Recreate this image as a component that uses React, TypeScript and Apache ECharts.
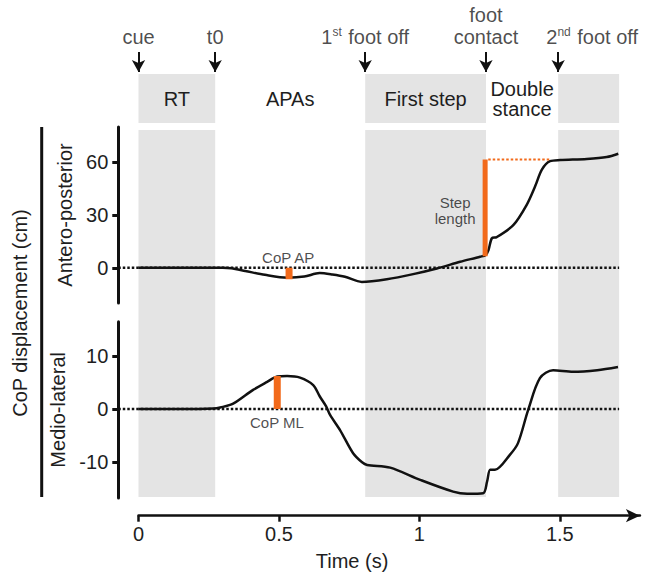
import React, { useEffect, useRef } from "react";
import * as echarts from "echarts";

// ---- data ----
const apTime = [0, 0.15, 0.3, 0.33, 0.38, 0.45, 0.53, 0.59, 0.645, 0.69, 0.735, 0.795, 0.884, 0.978, 1.062, 1.145, 1.216, 1.236, 1.246, 1.258, 1.275, 1.335, 1.382, 1.412, 1.436, 1.465, 1.501, 1.596, 1.667, 1.708];
const apValues = [0, 0, 0, -0.3, -1.8, -4.0, -5.6, -5.0, -3.0, -3.8, -5.1, -8.0, -6.5, -3.6, -0.4, 3.4, 6.3, 7.3, 10.1, 16.8, 17.4, 24.4, 35.8, 46.3, 55.8, 60.6, 61.2, 61.8, 62.9, 64.8];
const mlTime = [0, 0.15, 0.266, 0.291, 0.337, 0.408, 0.458, 0.494, 0.529, 0.575, 0.622, 0.645, 0.668, 0.682, 0.718, 0.764, 0.796, 0.814, 0.896, 1.003, 1.12, 1.17, 1.227, 1.241, 1.252, 1.269, 1.322, 1.351, 1.387, 1.429, 1.476, 1.547, 1.633, 1.707];
const mlValues = [0, 0, 0.1, 0.3, 1.0, 3.6, 5.1, 6.1, 6.2, 5.9, 4.5, 2.4, 0.5, -1.1, -4.0, -8.3, -10.0, -10.5, -11.0, -13.3, -15.5, -15.9, -15.8, -13.6, -11.4, -11.4, -8.6, -6.4, -0.2, 5.8, 7.3, 7.0, 7.3, 7.9];

const phaseNames = ["RT", "APAs", "First step", "Double\nstance", ""];
const phaseStart = [0, 0.273, 0.807, 1.237, 1.494];
const phaseEnd = [0.273, 0.807, 1.237, 1.494, 1.711];
const phaseShaded = [true, false, true, false, true];

const eventNames = ["cue", "t0", "1{sup|st} foot off", "foot\ncontact", "2{sup|nd} foot off"];
const eventTimes = [0, 0.273, 0.807, 1.237, 1.494];

const apTicks = [0, 30, 60];
const mlTicks = [-10, 0, 10];
const timeTicks = [0, 0.5, 1, 1.5];

const copApTime = [0.536, 0.536];
const copApValues = [0, -6.5];
const copMlTime = [0.494, 0.494];
const copMlValues = [0, 6.2];
const stepTime = [1.234, 1.234];
const stepValues = [6.5, 61.5];
const stepRefTime = [1.245, 1.465];
const stepRefValues = [61.5, 61.5];
const zeroLineTime = [-0.072, 1.711];
const zeroLineValues = [0, 0];

const apNotes = ["CoP AP", "Step\nlength"];
const apNoteTime = [0.533, 1.127];
const apNoteValues = [6.1, 32.5];
const mlNotes = ["CoP ML"];
const mlNoteTime = [0.493];
const mlNoteValues = [-2.6];

// ---- layout ----
const FONT = "'Liberation Sans', Arial, Helvetica, sans-serif";
const TXT = "#1e1e1e";
const INK = "#111";
const ORANGE = "#F26A1B";
const GRAY = "#e4e4e4";
const PXPS = 280.9;
const X0 = 138.5;
const T_MIN = -0.072;
const T_MAX = 1.785;
const TIME_MAX = 1.785;
const pLeft = X0 + T_MIN * PXPS;
const pWidth = (T_MAX - T_MIN) * PXPS;

const zip = (a: number[], b: number[]) => a.map((v, i) => [v, b[i]]);

export default function App() {
  const ref = useRef<HTMLDivElement>(null);
  useEffect(() => {
    if (!ref.current) return;
    const chart = echarts.init(ref.current, undefined, { renderer: "svg" });
    const hiddenX = (gridIndex: number) => ({
      type: "value", gridIndex, min: T_MIN, max: T_MAX, show: false,
    });
    const hiddenY = (gridIndex: number) => ({
      type: "value", gridIndex, min: 0, max: 1, show: false,
    });
    const yAxisStyle = (gridIndex: number, min: number, max: number, ticks: number[], name: string) => ({
      type: "value", gridIndex, min, max, name,
      nameLocation: "middle", nameGap: 38, nameRotate: 90,
      nameTextStyle: { fontSize: 20, color: TXT, fontFamily: FONT },
      axisLine: { show: true, onZero: false, lineStyle: { color: INK, width: 3 } },
      axisTick: { show: true, length: 6, lineStyle: { color: INK, width: 3 }, customValues: ticks },
      axisLabel: { show: true, fontSize: 20, color: TXT, fontFamily: FONT, margin: 10, customValues: ticks },
      splitLine: { show: false },
    });
    const option: any = {
      animation: false,
      grid: [
        { left: pLeft, width: pWidth, top: 74, height: 49 },
        { left: pLeft, width: pWidth, top: 130, height: 367 },
        { left: pLeft, width: pWidth, top: 127, height: 176 },
        { left: pLeft, width: pWidth, top: 321.7, height: 176.3 },
        { left: X0, width: TIME_MAX * PXPS, top: 480, height: 35.7 },
        { left: pLeft, width: pWidth, top: 52, height: 20 },
      ],
      xAxis: [
        hiddenX(0), hiddenX(1), hiddenX(2), hiddenX(3),
        {
          type: "value", gridIndex: 4, min: 0, max: TIME_MAX,
          axisLine: { show: true, onZero: false, symbol: ["none", "arrow"], symbolSize: [10, 14], lineStyle: { color: INK, width: 2.5 } },
          axisTick: { show: true, length: 6, lineStyle: { color: INK, width: 2.5 }, customValues: timeTicks },
          axisLabel: { show: true, fontSize: 20, color: TXT, fontFamily: FONT, margin: 8, customValues: timeTicks },
          splitLine: { show: false },
        },
        hiddenX(5),
      ],
      yAxis: [
        hiddenY(0), hiddenY(1),
        yAxisStyle(2, -20, 80, apTicks, "Antero-posterior"),
        yAxisStyle(3, -16.7, 16.4, mlTicks, "Medio-lateral"),
        hiddenY(4), hiddenY(5),
      ],
      graphic: [
        { type: "line", shape: { x1: 41.7, y1: 127, x2: 41.7, y2: 497 }, style: { stroke: INK, lineWidth: 3 } },
        {
          type: "text", x: 20, y: 313, rotation: Math.PI / 2,
          style: { text: "CoP displacement (cm)", fontSize: 20, fill: TXT, fontFamily: FONT, align: "center", verticalAlign: "middle" },
        },
        {
          type: "text", x: 352, y: 561,
          style: { text: "Time (s)", fontSize: 20, fill: TXT, fontFamily: FONT, align: "center", verticalAlign: "middle" },
        },
      ],
      series: [
        {
          type: "line", xAxisIndex: 0, yAxisIndex: 0, data: [], silent: true,
          markArea: {
            silent: true,
            data: phaseNames.map((n, i) => [
              {
                name: n, xAxis: phaseStart[i], yAxis: 0,
                itemStyle: { color: phaseShaded[i] ? GRAY : "rgba(0,0,0,0)" },
              },
              { xAxis: phaseEnd[i], yAxis: 1 },
            ]),
            label: { show: true, position: "inside", fontSize: 20, color: TXT, fontFamily: FONT, lineHeight: 20 },
          },
        },
        {
          type: "line", xAxisIndex: 1, yAxisIndex: 1, data: [], silent: true,
          markArea: {
            silent: true,
            label: { show: false },
            data: phaseNames
              .map((n, i) => ({ i }))
              .filter(({ i }) => phaseShaded[i])
              .map(({ i }) => [
                { xAxis: phaseStart[i], yAxis: 0, itemStyle: { color: GRAY } },
                { xAxis: phaseEnd[i], yAxis: 1 },
              ]),
          },
        },
        {
          type: "line", xAxisIndex: 2, yAxisIndex: 2, data: zip(zeroLineTime, zeroLineValues),
          symbol: "none", lineStyle: { color: INK, width: 2.5, type: [2.5, 2] }, z: 3,
        },
        {
          type: "line", xAxisIndex: 2, yAxisIndex: 2, data: zip(apTime, apValues),
          symbol: "none", smooth: 0.3, lineStyle: { color: INK, width: 2.5 }, z: 4,
        },
        {
          type: "line", xAxisIndex: 2, yAxisIndex: 2, data: zip(stepRefTime, stepRefValues),
          symbol: "none", lineStyle: { color: ORANGE, width: 2, type: [2.5, 2] }, z: 5,
        },
        {
          type: "line", xAxisIndex: 2, yAxisIndex: 2, data: zip(copApTime, copApValues),
          symbol: "none", lineStyle: { color: ORANGE, width: 7, cap: "butt" }, z: 5,
        },
        {
          type: "line", xAxisIndex: 2, yAxisIndex: 2, data: zip(stepTime, stepValues),
          symbol: "none", lineStyle: { color: ORANGE, width: 5, cap: "butt" }, z: 5,
        },
        {
          type: "scatter", xAxisIndex: 2, yAxisIndex: 2, symbolSize: 0, z: 6,
          data: apNotes.map((n, i) => ({ name: n, value: [apNoteTime[i], apNoteValues[i]] })),
          label: { show: true, position: "inside", formatter: "{b}", fontSize: 15, color: TXT, fontFamily: FONT, lineHeight: 16 },
        },
        {
          type: "line", xAxisIndex: 3, yAxisIndex: 3, data: zip(zeroLineTime, zeroLineValues),
          symbol: "none", lineStyle: { color: INK, width: 2.5, type: [2.5, 2] }, z: 3,
        },
        {
          type: "line", xAxisIndex: 3, yAxisIndex: 3, data: zip(mlTime, mlValues),
          symbol: "none", smooth: 0.3, lineStyle: { color: INK, width: 2.5 }, z: 4,
        },
        {
          type: "line", xAxisIndex: 3, yAxisIndex: 3, data: zip(copMlTime, copMlValues),
          symbol: "none", lineStyle: { color: ORANGE, width: 7, cap: "butt" }, z: 5,
        },
        {
          type: "scatter", xAxisIndex: 3, yAxisIndex: 3, symbolSize: 0, z: 6,
          data: mlNotes.map((n, i) => ({ name: n, value: [mlNoteTime[i], mlNoteValues[i]] })),
          label: { show: true, position: "inside", formatter: "{b}", fontSize: 15, color: TXT, fontFamily: FONT },
        },
        {
          type: "scatter", xAxisIndex: 5, yAxisIndex: 5, symbolSize: 0, silent: true,
          data: eventNames.map((n, i) => ({
            name: n, value: [eventTimes[i], 1],
            label: i === 4 ? { offset: [34, 0] } : undefined,
          })),
          label: {
            show: true, position: "top", distance: 4, formatter: "{b}",
            fontSize: 20, color: TXT, fontFamily: FONT, lineHeight: 22,
            rich: { sup: { fontSize: 12, color: TXT, fontFamily: FONT, verticalAlign: "top", padding: [0, 1, 8, 0] } },
          },
          markLine: {
            silent: true, symbol: ["none", "arrow"], symbolSize: [10, 12],
            label: { show: false },
            lineStyle: { color: INK, width: 2, type: "solid" },
            data: eventTimes.map((t) => [{ coord: [t, 1] }, { coord: [t, 0] }]),
          },
        },
      ],
    };
    chart.setOption(option);
    return () => chart.dispose();
  }, []);
  return (
    <div
      ref={ref}
      style={{ position: "fixed", left: 0, top: 0, width: 645, height: 573, background: "#fff" }}
    />
  );
}
